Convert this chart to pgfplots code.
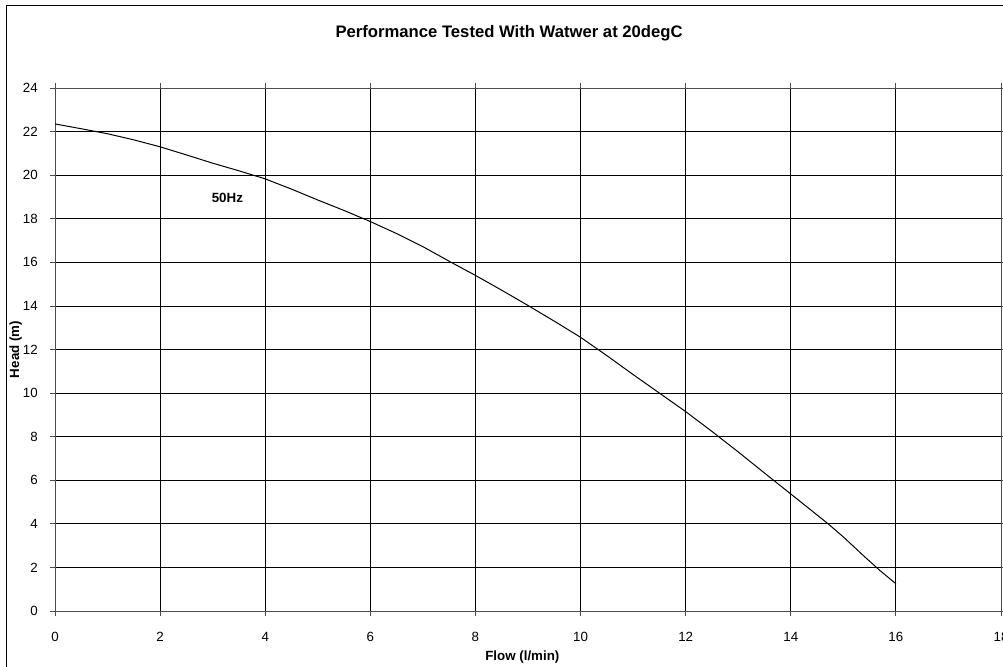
\documentclass[border=0pt]{standalone}
\usepackage{pgfplots}
\pgfplotsset{compat=1.18}
\usepackage{fontspec}
\setmainfont{Liberation Sans}

% pump curve, head vs flow
\pgfplotstableread{
flow head
0    22.35
0.5  22.13
1    21.90
1.5  21.62
2    21.30
2.5  20.93
3    20.55
3.5  20.20
4    19.83
4.5  19.36
5    18.86
5.5  18.38
6    17.87
6.5  17.32
7    16.72
7.5  16.05
8    15.40
8.5  14.72
9    14.02
9.5  13.30
10   12.56
10.5 11.72
11   10.85
11.5 10.00
12   9.15
12.5 8.24
13   7.30
13.5 6.33
14   5.37
14.4 4.60
14.7 4.02
15   3.40
15.4 2.50
15.7 1.85
16   1.25
}\pumpdata

\begin{document}
\begin{tikzpicture}
\useasboundingbox (-41.25pt,-42pt) rectangle (711pt,458.25pt);
\draw[line width=0.75pt] (-36pt,-80pt) rectangle (780pt,453.75pt);
\begin{axis}[
scale only axis,
width=709.5pt, height=392.25pt,
xmin=0, xmax=18, ymin=0, ymax=24,
xtick={0,2,...,18}, ytick={0,2,...,24},
grid=major,
major grid style={black, line width=0.6pt},
axis line style={black!70, line width=0.6pt},
tick align=outside,
major tick length=3.75pt,
tick style={black!70, line width=0.6pt},
x tick label style={font=\fontsize{10}{12}\selectfont},
y tick label style={font=\fontsize{10}{12}\selectfont},
/pgf/number format/assume math mode=true,
xticklabel style={inner sep=0pt, anchor=base, yshift=-19.3pt},
yticklabel style={inner sep=0pt, anchor=east, xshift=-9pt},
xlabel={\textbf{Flow (l/min)}},
ylabel={\textbf{Head (m)}},
label style={font=\fontsize{10}{12}\selectfont},
xlabel style={at={(axis description cs:0.494,-0.088)}, anchor=center},
ylabel style={at={(axis description cs:-0.0415,0.5)}, anchor=center},
clip mode=individual,
]
\addplot[black, line width=0.75pt] table[x=flow, y=head] {\pumpdata};
\node[font=\fontsize{10}{12}\selectfont\bfseries] at (axis cs:3.28,18.97) {50Hz};
\node[font=\fontsize{12.5}{15}\selectfont\bfseries] at (axis description cs:0.48,1.105) {Performance Tested With Watwer at 20degC};
\end{axis}
\end{tikzpicture}
\end{document}
